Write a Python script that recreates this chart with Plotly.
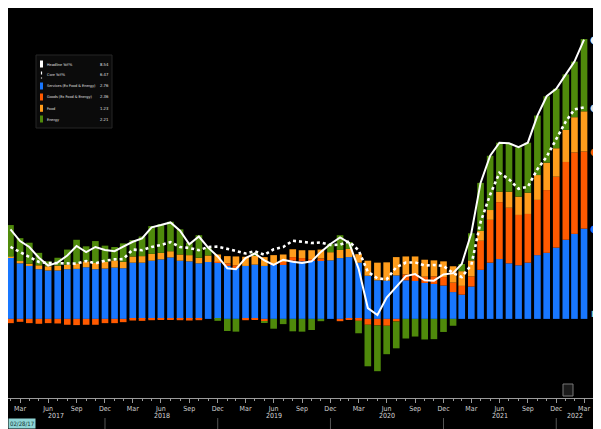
import pandas as pd
import plotly.graph_objects as go

# ---------------- data (monthly, Feb 2017 .. Mar 2022) ----------------
start_month = "2017-02-01"
n_months = 62

headline = [2.74, 2.38, 2.20, 1.87, 1.63, 1.73, 1.94, 2.23, 2.04, 2.20, 2.11,
            2.07, 2.21, 2.36, 2.46, 2.80, 2.87, 2.95, 2.70, 2.28, 2.52, 2.18, 1.91,
            1.55, 1.52, 1.86, 2.00, 1.79, 1.65, 1.81, 1.75, 1.71, 1.76, 2.05, 2.29,
            2.49, 2.33, 1.54, 0.33, 0.12, 0.65, 0.99, 1.31, 1.37, 1.18, 1.17, 1.36,
            1.40, 1.68, 2.62, 4.16, 4.99, 5.39, 5.37, 5.25, 5.39, 6.22, 6.81, 7.04,
            7.48, 7.87, 8.54]

core = [2.20, 2.04, 1.89, 1.74, 1.71, 1.70, 1.70, 1.69, 1.77, 1.70, 1.78,
        1.82, 1.83, 2.12, 2.10, 2.20, 2.26, 2.35, 2.20, 2.17, 2.10, 2.20, 2.21,
        2.15, 2.08, 2.00, 2.07, 1.96, 2.13, 2.20, 2.39, 2.36, 2.32, 2.34, 2.26,
        2.27, 2.37, 2.10, 1.44, 1.24, 1.21, 1.58, 1.72, 1.73, 1.63, 1.65, 1.62,
        1.40, 1.28, 1.65, 2.96, 3.80, 4.47, 4.27, 3.98, 4.04, 4.58, 4.96, 5.48,
        6.04, 6.41, 6.47]

services = [1.87, 1.70, 1.62, 1.52, 1.48, 1.48, 1.52, 1.53, 1.58, 1.52, 1.54,
            1.57, 1.55, 1.72, 1.72, 1.78, 1.82, 1.88, 1.78, 1.76, 1.70, 1.74, 1.72,
            1.62, 1.58, 1.62, 1.66, 1.62, 1.65, 1.65, 1.78, 1.76, 1.80, 1.80, 1.79,
            1.86, 1.89, 1.72, 1.32, 1.18, 1.17, 1.33, 1.18, 1.16, 1.10, 1.07, 1.02,
            0.82, 0.74, 0.99, 1.50, 1.72, 1.83, 1.70, 1.64, 1.72, 1.95, 2.02, 2.18,
            2.42, 2.60, 2.76]

goods = [-0.13, -0.09, -0.13, -0.15, -0.13, -0.14, -0.18, -0.19, -0.18, -0.18, -0.13,
         -0.13, -0.10, -0.05, -0.06, -0.04, -0.03, -0.02, -0.04, -0.05, -0.04, 0.00, 0.03,
         0.08, 0.06, -0.04, -0.02, -0.07, 0.03, 0.09, 0.11, 0.10, 0.03, 0.05, 0.00,
         -0.07, -0.02, -0.06, -0.18, -0.20, -0.21, -0.08, 0.18, 0.21, 0.19, 0.23, 0.26,
         0.29, 0.27, 0.31, 0.89, 1.31, 1.74, 1.70, 1.54, 1.49, 1.69, 1.92, 2.17,
         2.38, 2.49, 2.36]

food = [0.03, 0.07, 0.07, 0.12, 0.13, 0.15, 0.14, 0.17, 0.18, 0.19, 0.20,
        0.22, 0.20, 0.19, 0.20, 0.21, 0.20, 0.19, 0.19, 0.19, 0.17, 0.20, 0.22,
        0.22, 0.27, 0.28, 0.27, 0.27, 0.27, 0.23, 0.24, 0.24, 0.27, 0.27, 0.25,
        0.25, 0.25, 0.26, 0.46, 0.54, 0.56, 0.56, 0.55, 0.54, 0.52, 0.49, 0.48,
        0.50, 0.45, 0.49, 0.30, 0.30, 0.32, 0.49, 0.56, 0.65, 0.76, 0.84, 0.87,
        0.98, 1.08, 1.23]

energy = [0.97, 0.70, 0.64, 0.38, 0.15, 0.24, 0.46, 0.72, 0.46, 0.67, 0.50,
          0.41, 0.56, 0.50, 0.60, 0.85, 0.88, 0.90, 0.77, 0.38, 0.69, 0.24, -0.06,
          -0.37, -0.39, 0.00, 0.09, -0.03, -0.30, -0.16, -0.38, -0.39, -0.34, -0.07, 0.25,
          0.45, 0.21, -0.38, -1.27, -1.40, -0.87, -0.82, -0.60, -0.54, -0.63, -0.62, -0.40,
          -0.21, 0.22, 0.83, 1.47, 1.66, 1.50, 1.48, 1.51, 1.53, 1.82, 2.03, 1.82,
          1.70, 1.70, 2.21]

names = ["Headline YoY%", "Core YoY%", "Services (Ex Food & Energy)",
         "Goods (Ex Food & Energy)", "Food", "Energy"]
years = ["2017", "2018", "2019", "2020", "2021", "2022"]
quarter_months = {3: "Mar", 6: "Jun", 9: "Sep", 12: "Dec"}
start_label = "02/28/17"

# ---------------- styling ----------------
C_SERV = "#1877ff"
C_GOODS = "#ff5a00"
C_FOOD = "#ff9d1c"
C_ENERGY = "#4f8a0b"
FONT = "Liberation Sans Narrow, DejaVu Sans Condensed, Liberation Sans, sans-serif"

dates = pd.date_range(start_month, periods=n_months, freq="MS") + pd.offsets.MonthEnd(0)
bar_w = 21.5 * 86400000

x0 = pd.Timestamp("2017-02-20")
x1 = pd.Timestamp("2022-04-29")
YMIN, YMAX = -2.42, 9.51
PW, PH = 585, 390  # plot area in px


def px(fx):
    return fx / PW


def py(fy):
    return (PH - fy) / PH


fig = go.Figure()
for vals, col, nm in [(services, C_SERV, names[2]), (goods, C_GOODS, names[3]),
                      (food, C_FOOD, names[4]), (energy, C_ENERGY, names[5])]:
    fig.add_trace(go.Bar(x=dates, y=vals, marker=dict(color=col, line=dict(width=0)),
                         width=bar_w, name=nm, showlegend=False))

fig.add_trace(go.Scatter(x=dates, y=core, mode="lines", name=names[1],
                         line=dict(color="white", width=2.6, dash="dot"), showlegend=False))
fig.add_trace(go.Scatter(x=dates, y=headline, mode="lines", name=names[0],
                         line=dict(color="white", width=2), showlegend=False))

tickvals = [d for d in dates if d.month in quarter_months]
ticktext = [quarter_months[d.month] for d in tickvals]

shapes = []
annotations = []

# year separators and labels
for y in years:
    yi = int(y)
    sep = pd.Timestamp(f"{yi}-12-31")
    if sep < x1:
        shapes.append(dict(type="line", xref="x", yref="paper", x0=sep, x1=sep,
                           y0=py(410), y1=py(425), line=dict(color="#555555", width=1)))
    lo = max(pd.Timestamp(f"{yi}-01-01"), x0)
    hi = min(pd.Timestamp(f"{yi}-12-31"), x1)
    mid = lo + (hi - lo) / 2
    annotations.append(dict(x=mid, y=py(414), xref="x", yref="paper", text=y,
                            showarrow=False, font=dict(size=7, color="#d8d8d8", family=FONT)))

annotations.append(dict(x=px(0), y=py(415.5), xref="paper", yref="paper", text=start_label,
                        showarrow=False, xanchor="left", yanchor="middle",
                        bgcolor="#8fd6d6", borderpad=1,
                        font=dict(size=6, color="#103030", family=FONT)))

# legend box
shapes.append(dict(type="rect", xref="paper", yref="paper", x0=px(28), x1=px(104),
                   y0=py(47), y1=py(120), fillcolor="#0b0b0b",
                   line=dict(color="#262626", width=1), layer="above"))
rows = [56, 67, 78, 89, 100.3, 111]
legend_vals = [headline[-1], core[-1], services[-1], goods[-1], food[-1], energy[-1]]
sw_cols = ["white", None, C_SERV, C_GOODS, C_FOOD, C_ENERGY]
for r, nm, v, c in zip(rows, names, legend_vals, sw_cols):
    if c is None:
        shapes.append(dict(type="line", xref="paper", yref="paper", x0=px(33.5), x1=px(33.5),
                           y0=py(r - 3.5), y1=py(r + 3.5),
                           line=dict(color="white", width=1.2, dash="dot"), layer="above"))
    else:
        shapes.append(dict(type="rect", xref="paper", yref="paper", x0=px(32), x1=px(35),
                           y0=py(r - 3.5), y1=py(r + 3.5), fillcolor=c,
                           line=dict(width=0), layer="above"))
    annotations.append(dict(x=px(36.5), y=py(r), xref="paper", yref="paper", text=nm,
                            showarrow=False, xanchor="left", yanchor="middle",
                            font=dict(size=3.8, color="#e0e0e0", family=FONT)))
    annotations.append(dict(x=px(102.5), y=py(r), xref="paper", yref="paper", text=f"{v:.2f}",
                            showarrow=False, xanchor="right", yanchor="middle",
                            font=dict(size=4.2, color="#e0e0e0", family=FONT)))

# right-edge value tags at the series' last values (kept inside the visible area)
tag_vals = [headline[-1], core[-1], services[-1] + goods[-1], services[-1]]
tag_cols = ["#f2f2f2", "#e0e0e0", C_GOODS, C_SERV]
for v, c in zip(tag_vals, tag_cols):
    annotations.append(dict(x=px(592.5), y=v, xref="paper", yref="y", text="\u25cf",
                            showarrow=False, xanchor="right", yanchor="middle",
                            font=dict(size=10, color=c, family="DejaVu Sans")))
annotations.append(dict(x=px(592.5), y=0.15, xref="paper", yref="y", text="\u25a0",
                        showarrow=False, xanchor="right", yanchor="middle",
                        font=dict(size=8, color="#7fc9c9", family="DejaVu Sans")))

# small icon bottom right
shapes.append(dict(type="rect", xref="paper", yref="paper", x0=px(555), x1=px(565),
                   y0=py(388), y1=py(376), fillcolor="#1a1a1a",
                   line=dict(color="#777777", width=1)))

fig.update_layout(
    width=601, height=429,
    margin=dict(l=0, r=601 - PW, t=0, b=429 - PH, pad=0),
    paper_bgcolor="black", plot_bgcolor="black",
    barmode="relative", bargap=0.28,
    showlegend=False,
    shapes=shapes, annotations=annotations,
    font=dict(family=FONT, color="#cccccc", size=7),
    xaxis=dict(type="date", range=[x0, x1], showgrid=False, zeroline=False,
               showline=True, linecolor="#9a9a9a", linewidth=1,
               tickmode="array", tickvals=tickvals, ticktext=ticktext,
               ticks="outside", ticklen=4, tickcolor="#9a9a9a", tickwidth=1,
               tickfont=dict(size=7, color="#d0d0d0", family=FONT),
               minor=dict(tickmode="array", tickvals=list(dates), ticklen=2,
                          tickcolor="#9a9a9a", ticks="outside"),
               automargin=False, fixedrange=True),
    yaxis=dict(range=[YMIN, YMAX], side="right", showgrid=False, zeroline=False,
               showline=True, linecolor="#444444", linewidth=1,
               tickvals=[-2, 0, 2, 4, 6, 8], ticks="outside", ticklen=4,
               tickcolor="#888888", showticklabels=False,
               minor=dict(dtick=1, ticklen=2, tickcolor="#666666", ticks="outside"),
               automargin=False, fixedrange=True),
)

fig.write_html("out.html")
